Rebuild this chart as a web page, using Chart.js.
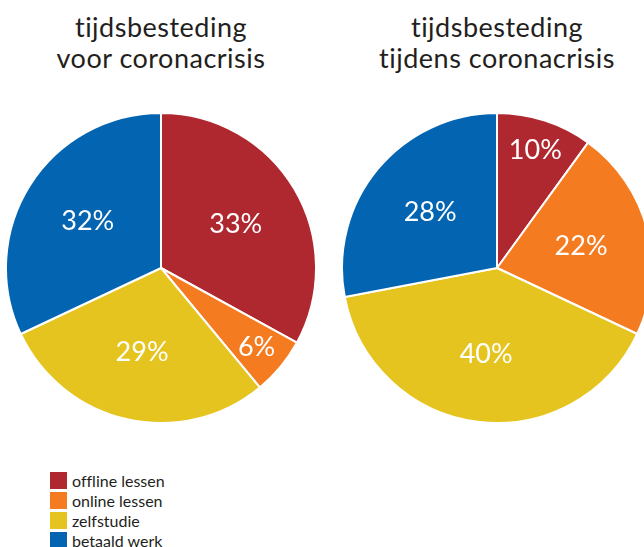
<!DOCTYPE html>
<html>
<head>
<meta charset="utf-8">
<script src="https://cdn.jsdelivr.net/npm/chart.js@4/dist/chart.umd.min.js"></script>
<style>
    html, body { margin: 0; padding: 0; background: #fff; overflow: hidden; }
    body { width: 644px; height: 547px; position: relative; font-family: Lato, sans-serif; color: #231f20; font-variant-ligatures: none; }
    .title { position: absolute; top: 11px; width: 340px; text-align: center; font-size: 27px; line-height: 31px; letter-spacing: 0.5px; }
    .pie { position: absolute; top: 112px; }
    #legend { position: absolute; left: 50px; top: 472px; font-size: 16px; }
    #legend div { height: 20px; line-height: 17px; display: flex; align-items: flex-start; }
    #legend span.box { width: 17px; height: 17px; margin-right: 5px; display: inline-block; }
</style>
</head>
<body>
<div class="title" style="left:-9px">tijdsbesteding<br>voor coronacrisis</div>
<div class="title" style="left:327px">tijdsbesteding<br>tijdens coronacrisis</div>
<canvas id="chartBefore" class="pie" width="312" height="312" style="left:5px"></canvas>
<canvas id="chartDuring" class="pie" width="312" height="312" style="left:341px"></canvas>
<div id="legend"></div>
<script>
const categories = ['offline lessen', 'online lessen', 'zelfstudie', 'betaald werk'];
const valuesBefore = [33, 6, 29, 32];
const valuesDuring = [10, 22, 40, 28];
const colors = ['#b0282f', '#f47b20', '#e6c41f', '#0365b1'];

// Draw the percentage inside every slice
const sliceLabels = {
    id: 'sliceLabels',
    afterDatasetsDraw(chart) {
        const ctx = chart.ctx;
        const data = chart.data.datasets[0].data;
        chart.getDatasetMeta(0).data.forEach((arc, i) => {
            const mid = (arc.startAngle + arc.endAngle) / 2;
            const f = data[i] <= 10 ? 0.8 : 0.56;
            const x = arc.x + Math.cos(mid) * arc.outerRadius * f;
            const y = arc.y + Math.sin(mid) * arc.outerRadius * f;
            ctx.save();
            ctx.fillStyle = '#fff';
            ctx.font = '27px Lato, sans-serif';
            ctx.textAlign = 'center';
            ctx.textBaseline = 'middle';
            ctx.fillText(data[i] + '%', x, y);
            ctx.restore();
        });
    }
};

function makePie(id, values) {
    return new Chart(document.getElementById(id), {
        type: 'pie',
        data: {
            labels: categories,
            datasets: [{
                data: values,
                backgroundColor: colors,
                borderColor: '#fff',
                borderWidth: 2
            }]
        },
        options: {
            responsive: false,
            animation: false,
            layout: { padding: 0 },
            plugins: {
                legend: { display: false },
                tooltip: { enabled: false }
            }
        },
        plugins: [sliceLabels]
    });
}

makePie('chartBefore', valuesBefore);
makePie('chartDuring', valuesDuring);

// Legend
const legend = document.getElementById('legend');
categories.forEach((name, i) => {
    const row = document.createElement('div');
    row.innerHTML = '<span class="box" style="background:' + colors[i] + '"></span>' + name;
    legend.appendChild(row);
});
</script>
</body>
</html>
